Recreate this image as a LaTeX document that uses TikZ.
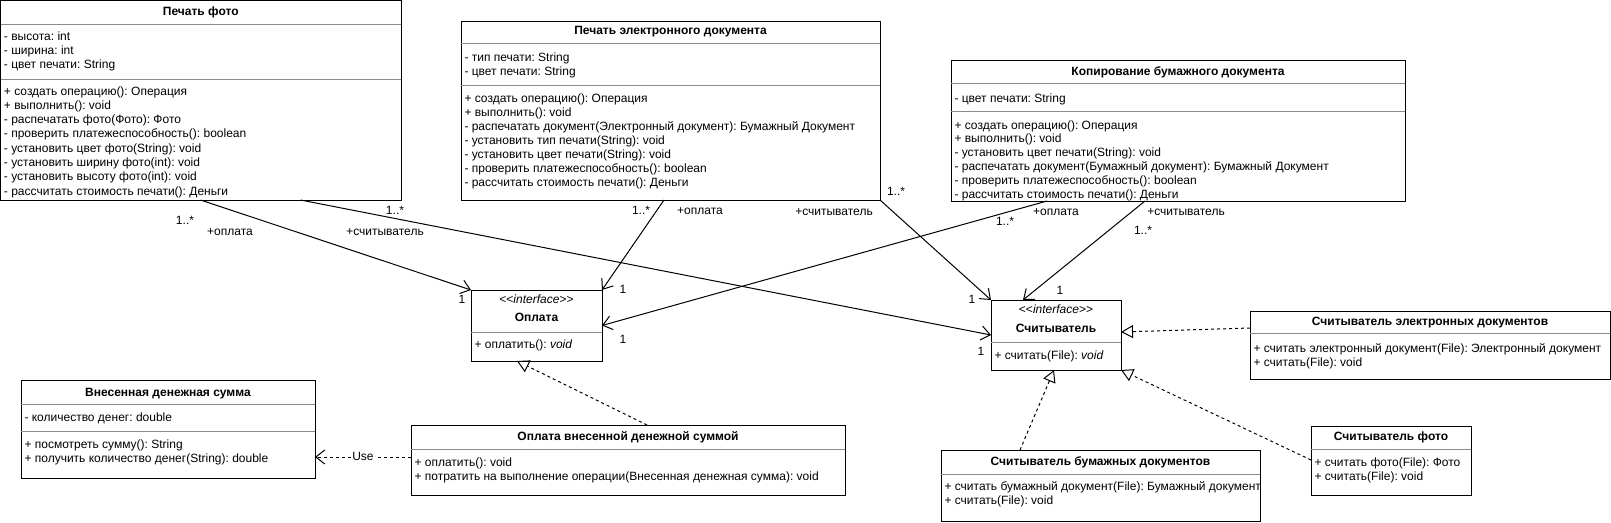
\documentclass[tikz,border=0pt]{standalone}
\usepackage{fontspec}
\setmainfont{Liberation Sans}
\usetikzlibrary{arrows.meta,calc}
\frenchspacing
\newcommand\clsbox[5]{\node[box, minimum width={#4-#2}, minimum height={#5-#3}] (#1) at ({(#2+#4)/2},{(#3+#5)/2}) {};}
\newcommand\sepat[2]{\draw[sepl] ([yshift=-#2pt]#1.north west) -- ([yshift=-#2pt]#1.north east);}
\newcommand\rows[5]{\foreach \t [count=\i] in {#5} {\node[ln] (#1-\i) at (#2,{#3+#4*(\i-1)}) {\t};}}
\begin{document}
\begin{tikzpicture}[x=1pt,y=-1pt, line width=1pt,
  box/.style={draw=black, fill=white, inner sep=0pt, outer sep=0pt, rectangle},
  sepl/.style={draw=black!45, line width=0.8pt},
  ttl/.style={font=\fontsize{12}{14}\selectfont\bfseries, inner sep=0pt, text height=8.7pt, text depth=2.7pt},
  ln/.style={font=\fontsize{12}{14}\selectfont, inner sep=0pt, anchor=west, text height=8.7pt, text depth=2.7pt},
  lbl/.style={font=\fontsize{12}{14}\selectfont, inner sep=0pt, text height=8.7pt, text depth=2.7pt},
  assoc/.style={-{Straight Barb[length=9pt,width=14pt]}},
  real/.style={dash pattern=on 3pt off 3pt, -{Triangle[open,length=12pt,width=13pt]}},
  use/.style={dash pattern=on 3pt off 3pt, -{Straight Barb[length=9pt,width=14pt]}},
]
\useasboundingbox (0,0) rectangle (1611,522);

% Печать фото
\clsbox{pf}{0.5}{0.5}{401}{200}
\node[ttl] (pf-t) at (200.75,12) {Печать фото};
\sepat{pf}{23.5}
\sepat{pf}{78.5}
\rows{pfa}{3.5}{37}{14}{- высота: int, - ширина: int, - цвет печати: String}
\rows{pfm}{3.5}{92}{14.3}{+ создать операцию(): Операция, + выполнить(): void, - распечатать фото(Фото): Фото, - проверить платежеспособность(): boolean, - установить цвет фото(String): void, - установить ширину фото(int): void, - установить высоту фото(int): void, - рассчитать стоимость печати(): Деньги}

% Печать электронного документа
\clsbox{ped}{461}{21}{880}{200}
\node[ttl] (ped-t) at (670.5,31.5) {Печать электронного документа};
\sepat{ped}{22}
\sepat{ped}{64}
\rows{peda}{464}{58}{14}{- тип печати: String, - цвет печати: String}
\rows{pedm}{464}{99}{14}{+ создать операцию(): Операция, + выполнить(): void, - распечатать документ(Электронный документ): Бумажный Документ, - установить тип печати(String): void, - установить цвет печати(String): void, - проверить платежеспособность(): boolean, - рассчитать стоимость печати(): Деньги}

% Копирование бумажного документа
\clsbox{kbd}{951}{60}{1405}{201}
\node[ttl] (kbd-t) at (1178,72) {Копирование бумажного документа};
\sepat{kbd}{23}
\sepat{kbd}{51}
\rows{kbda}{954}{99}{14}{- цвет печати: String}
\rows{kbdm}{954}{126}{13.8}{+ создать операцию(): Операция, + выполнить(): void, - установить цвет печати(String): void, - распечатать документ(Бумажный документ): Бумажный Документ, - проверить платежеспособность(): boolean, - рассчитать стоимость печати(): Деньги}

% Оплата
\clsbox{op}{471}{290}{602}{361}
\node[lbl] (op-s) at (536.5,300) {<{}<\textit{interface}>{}>};
\node[ttl] (op-t) at (536.5,318) {Оплата};
\sepat{op}{42}
\node[ln] (op-m) at (474,345) {+ оплатить(): \textit{void}};

% Считыватель
\clsbox{rd}{991}{300}{1121}{370}
\node[lbl] (rd-s) at (1056,310) {<{}<\textit{interface}>{}>};
\node[ttl] (rd-t) at (1056,329) {Считыватель};
\sepat{rd}{42}
\node[ln] (rd-m) at (994,356) {+ считать(File): \textit{void}};

% Считыватель электронных документов
\clsbox{red}{1250}{311}{1610}{379}
\node[ttl] (red-t) at (1430,322) {Считыватель электронных документов};
\sepat{red}{22}
\rows{redm}{1253}{349}{14}{+ считать электронный документ(File): Электронный документ, + считать(File): void}

% Считыватель фото
\clsbox{rf}{1311}{426}{1471}{495}
\node[ttl] (rf-t) at (1391,437) {Считыватель фото};
\sepat{rf}{23}
\rows{rfm}{1314}{463}{14}{+ считать фото(File): Фото, + считать(File): void}

% Считыватель бумажных документов
\clsbox{rbd}{941}{450}{1260}{521}
\node[ttl] (rbd-t) at (1100.5,462) {Считыватель бумажных документов};
\sepat{rbd}{24}
\rows{rbdm}{944}{487}{14}{+ считать бумажный документ(File): Бумажный документ, + считать(File): void}

% Оплата внесенной денежной суммой
\clsbox{ovd}{411}{425}{845}{495}
\node[ttl] (ovd-t) at (628,437) {Оплата внесенной денежной суммой};
\sepat{ovd}{24}
\rows{ovdm}{414}{463}{14}{+ оплатить(): void, + потратить на выполнение операции(Внесенная денежная сумма): void}

% Внесенная денежная сумма
\clsbox{vds}{21}{380}{315}{478}
\node[ttl] (vds-t) at (168,393) {Внесенная денежная сумма};
\sepat{vds}{24}
\sepat{vds}{51}
\rows{vdsa}{24}{418}{14}{- количество денег: double}
\rows{vdsm}{24}{445}{14}{+ посмотреть сумму(): String, + получить количество денег(String): double}

% Connectors
\draw[assoc] ([xshift=200pt]pf.south west) -- (op.north west);
\draw[assoc] ([xshift=300pt]pf.south west) -- (rd.west);
\draw[assoc] ([xshift=203pt]ped.south west) -- (op.north east);
\draw[assoc] (ped.south east) -- (rd.north west);
\draw[assoc] ([xshift=96pt]kbd.south west) -- (op.east);
\draw[assoc] ([xshift=194pt]kbd.south west) -- ([xshift=32pt]rd.north west);
\draw[real] ([yshift=-17pt]red.north west) -- ([yshift=-32pt]rd.north east);
\draw[real] ([xshift=79pt]rbd.north west) -- ([xshift=63pt]rd.south west);
\draw[real] ([yshift=-34pt]rf.north west) -- (rd.south east);
\draw[real] ([xshift=236pt]ovd.north west) -- ([xshift=46pt]op.south west);
\draw[use] ([yshift=-32pt]ovd.north west) -- node[lbl, fill=white, inner xsep=1pt] (uselbl) {Use} ([yshift=-77pt]vds.north east);

% Labels
\node[lbl] (l1) at (185,221) {1..*};
\node[lbl] (l2) at (230,232) {+оплата};
\node[lbl] (l3) at (462,300) {1};
\node[lbl] (l4) at (395,211) {1..*};
\node[lbl] (l5) at (385,232) {+считыватель};
\node[lbl] (l6) at (981,352) {1};
\node[lbl] (l7) at (641,211) {1..*};
\node[lbl] (l8) at (700,211) {+оплата};
\node[lbl] (l9) at (623,290) {1};
\node[lbl] (l10) at (896,192) {1..*};
\node[lbl] (l11) at (834,212) {+считыватель};
\node[lbl] (l12) at (972,300) {1};
\node[lbl] (l13) at (1056,212) {+оплата};
\node[lbl] (l14) at (1005,222) {1..*};
\node[lbl] (l15) at (623,340) {1};
\node[lbl] (l16) at (1186,212) {+считыватель};
\node[lbl] (l17) at (1143,231) {1..*};
\node[lbl] (l18) at (1060,291) {1};
\end{tikzpicture}
\end{document}
